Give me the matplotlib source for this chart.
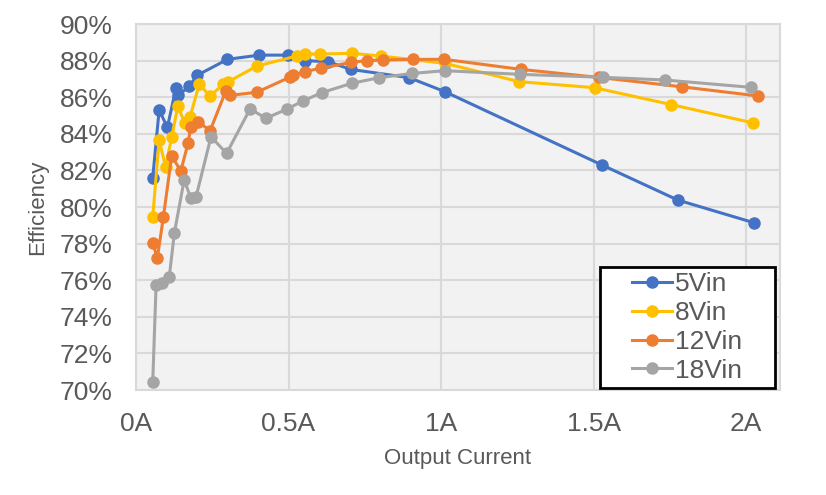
import matplotlib

matplotlib.use("Agg")
import matplotlib.pyplot as plt
from matplotlib.patches import Rectangle
from matplotlib.ticker import FuncFormatter, MultipleLocator

# output current (A) and efficiency (%) per input voltage
i_5v = [0.055, 0.076, 0.103, 0.131, 0.139, 0.175, 0.201, 0.30, 0.404, 0.499,
        0.554, 0.63, 0.704, 0.895, 1.013, 1.527, 1.776, 2.026]
eff_5v = [81.6, 85.3, 84.35, 86.5, 86.1, 86.6, 87.2, 88.07, 88.3, 88.3,
          88.0, 87.94, 87.52, 87.07, 86.3, 82.3, 80.38, 79.14]

i_8v = [0.055, 0.076, 0.097, 0.117, 0.137, 0.161, 0.177, 0.207, 0.243, 0.286,
        0.303, 0.396, 0.527, 0.554, 0.603, 0.707, 0.803, 1.013, 1.256, 1.503,
        1.754, 2.022]
eff_8v = [79.47, 83.66, 82.2, 83.8, 85.5, 84.57, 84.9, 86.7, 86.07, 86.7,
          86.85, 87.7, 88.25, 88.36, 88.36, 88.4, 88.25, 87.85, 86.85, 86.52,
          85.6, 84.6]

i_12v = [0.055, 0.07, 0.09, 0.117, 0.147, 0.171, 0.18, 0.204, 0.243, 0.295,
         0.308, 0.396, 0.505, 0.516, 0.554, 0.605, 0.704, 0.756, 0.81, 0.907,
         1.010, 1.262, 1.518, 1.789, 2.038]
eff_12v = [78.05, 77.2, 79.47, 82.79, 81.97, 83.5, 84.4, 84.66, 84.17, 86.36,
           86.1, 86.27, 87.1, 87.2, 87.4, 87.58, 87.9, 88.0, 88.03, 88.07,
           88.07, 87.52, 87.08, 86.57, 86.07]

i_18v = [0.055, 0.066, 0.084, 0.109, 0.126, 0.158, 0.18, 0.197, 0.246, 0.297,
         0.374, 0.426, 0.496, 0.548, 0.609, 0.707, 0.798, 0.906, 1.012, 1.259,
         1.53, 1.734, 2.016]
eff_18v = [70.45, 75.74, 75.83, 76.16, 78.6, 81.48, 80.48, 80.56, 83.84, 82.93,
           85.36, 84.85, 85.36, 85.8, 86.25, 86.76, 87.07, 87.3, 87.45, 87.25,
           87.09, 86.94, 86.54]

series = [
    ("5Vin", i_5v, eff_5v, "#4472C4"),
    ("8Vin", i_8v, eff_8v, "#FFC000"),
    ("12Vin", i_12v, eff_12v, "#ED7D31"),
    ("18Vin", i_18v, eff_18v, "#A5A5A5"),
]

plt.rcParams["font.family"] = ["Liberation Sans", "DejaVu Sans"]
text_color = "#595959"
grid_color = "#D9D9D9"

fig = plt.figure(figsize=(8.26, 4.95), dpi=100)
ax = fig.add_axes([0.1646, 0.212, 0.7794, 0.7395])
ax.set_facecolor("#F2F2F2")

for label, xs, ys, color in series:
    ax.plot(xs, ys, color=color, linewidth=2.2, marker="o", markersize=8,
            label=label)

ax.set_xlim(0, 2.11)
ax.set_ylim(70, 90)
ax.xaxis.set_major_locator(MultipleLocator(0.5))
ax.yaxis.set_major_locator(MultipleLocator(2))
ax.xaxis.set_major_formatter(FuncFormatter(lambda v, p: f"{v:g}A"))
ax.yaxis.set_major_formatter(FuncFormatter(lambda v, p: f"{v:.0f}%"))
ax.grid(True, color=grid_color, linewidth=1.5)
ax.set_axisbelow(True)
ax.tick_params(length=0, labelsize=19, colors=text_color)
ax.tick_params(axis="x", pad=16)
ax.tick_params(axis="y", pad=17)
for spine in ax.spines.values():
    spine.set_color(grid_color)
    spine.set_linewidth(1.5)

xl = ax.set_xlabel("Output Current", fontsize=16, color=text_color)
yl = ax.set_ylabel("Efficiency", fontsize=16, color=text_color)
xl.set_va("center")
yl.set_va("center")
ax.xaxis.set_label_coords(0.5, -0.186)
ax.yaxis.set_label_coords(-0.153, 0.5)

# legend box drawn separately so the entries sit centred in it
ax.add_patch(Rectangle((0.7205, 0.0055), 0.2715, 0.3305, transform=ax.transAxes,
                       facecolor="white", edgecolor="black", linewidth=2,
                       zorder=5))
leg = ax.legend(loc="center", bbox_to_anchor=(0.7205, 0.0055, 0.2715, 0.3305),
                fontsize=19, frameon=False, handlelength=1.5,
                handletextpad=0.12, labelspacing=0.18, borderpad=0.1)
leg.set_zorder(6)
for t in leg.get_texts():
    t.set_color(text_color)

fig.savefig("out.png", dpi=100, facecolor="white")
